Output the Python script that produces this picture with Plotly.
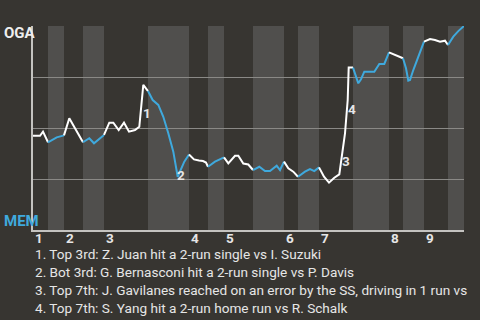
import plotly.graph_objects as go

# timeline position (game progress units) and OGA win probability (%)
t = [0, 7, 10, 15,
     20.3, 23.7, 31,
     36.3, 43, 50,
     56.3, 61, 71,
     76.3, 80.3, 85.7, 91, 96, 102, 106.3, 110.3, 115,
     119.7, 125.3, 130.3, 135.3, 140.3, 144.7, 151.3, 156,
     161, 166, 170, 173, 175,
     182, 191,
     195.3, 202, 205.3, 210.3, 215.3, 220,
     226.3, 232, 237, 243.7, 247, 251,
     255.3, 260.3, 265,
     272, 277, 281.3, 286,
     291, 296, 301.3, 306.3, 308.7, 312, 314.7, 315.7, 320,
     322.7, 325.3, 328, 331.3, 341.3, 346.3, 351.3, 356,
     360.3, 365.3, 370,
     373, 375.3, 377, 380.3, 385.3, 391,
     397, 402, 407, 412, 415,
     420.3, 425.3, 431]
wp = [46.2, 46.2, 48.2, 43.0,
      44.5, 45.4, 46.4,
      54.8, 49.0, 43.0,
      45.0, 42.5, 46.6,
      52.6, 52.6, 49.0, 52.6, 48.2, 49.0, 50.6, 71.1, 68.1,
      63.7, 61.3, 55.5, 47.4, 38.4, 26.1, 33.5, 37.0,
      34.6, 34.1, 33.8, 33.1, 31.0,
      33.5, 35.6,
      32.7, 36.4, 36.4, 32.6, 32.1, 29.4,
      31.0, 28.9, 28.9, 31.5, 29.4, 33.5,
      30.2, 28.6, 26.1,
      28.6, 29.9, 28.9, 30.7,
      26.1, 23.2, 25.6, 27.3, 36.8, 47.4, 63.7, 79.6, 79.6,
      75.1, 71.9, 73.9, 77.6, 77.6, 81.4, 81.4, 87.1,
      86.1, 85.0, 84.2,
      79.3, 73.2, 73.5, 78.4, 85.0, 92.3,
      93.6, 93.1, 92.3, 92.8, 90.7,
      94.8, 97.5, 100.0]

# half-inning boundaries on the timeline (top 1st ... bottom 9th)
half_bounds = [0, 15, 31, 50, 71, 115, 156, 175, 191, 220, 251, 265, 286,
               320, 356, 370, 391, 415, 431]
innings = ["1", "2", "3", "4", "5", "6", "7", "8", "9"]

# key events
event_nums = ["1", "2", "3", "4"]
event_t = [113.5, 148, 313, 319]
event_wp = [57.4, 27.0, 33.8, 59.3]
event_text = [
    "1. Top 3rd: Z. Juan hit a 2-run single vs I. Suzuki",
    "2. Bot 3rd: G. Bernasconi hit a 2-run single vs P. Davis",
    "3. Top 7th: J. Gavilanes reached on an error by the SS, driving in 1 run vs",
    "4. Top 7th: S. Yang hit a 2-run home run vs R. Schalk",
]

away, home = "OGA", "MEM"
BG = "#373531"
BAND = "#504f4d"
WHITE = "#ffffff"
BLUE = "#3fa9dd"
FONT = "Roboto"

fig = go.Figure()

for i in range(len(half_bounds) - 1):
    a, b = half_bounds[i], half_bounds[i + 1]
    xs = [x for x in t if a <= x <= b]
    ys = [y for x, y in zip(t, wp) if a <= x <= b]
    fig.add_trace(go.Scatter(
        x=xs, y=ys, mode="lines",
        line=dict(color=WHITE if i % 2 == 0 else BLUE, width=2),
        hoverinfo="skip", showlegend=False))

shapes = []
for i in range(1, len(half_bounds) - 1, 2):
    shapes.append(dict(type="rect", xref="x", yref="paper",
                       x0=half_bounds[i], x1=half_bounds[i + 1], y0=0, y1=1,
                       fillcolor=BAND, line=dict(width=0), layer="below"))

annotations = []
for k, lab in enumerate(innings):
    annotations.append(dict(x=half_bounds[2 * k], y=-0.04, xref="x", yref="paper",
                            text="<b>%s</b>" % lab, showarrow=False,
                            xanchor="left", yanchor="middle",
                            font=dict(family=FONT, size=13.5, color="#e6e6e6")))
for n, ex, ey in zip(event_nums, event_t, event_wp):
    annotations.append(dict(x=ex, y=ey, xref="x", yref="y",
                            text="<b>%s</b>" % n, showarrow=False,
                            xanchor="center", yanchor="middle",
                            font=dict(family=FONT, size=13.5, color="#e6e6e6")))
annotations.append(dict(x=-0.072, y=96.6, xref="paper", yref="y", text="<b>%s</b>" % away,
                        showarrow=False, xanchor="left", yanchor="middle",
                        font=dict(family=FONT, size=15, color="#eeeeee")))
annotations.append(dict(x=-0.072, y=4.4, xref="paper", yref="y", text="<b>%s</b>" % home,
                        showarrow=False, xanchor="left", yanchor="middle",
                        font=dict(family=FONT, size=15, color=BLUE)))
for j, txt in enumerate(event_text):
    annotations.append(dict(x=0.0, y=-0.118 - 0.088 * j, xref="paper", yref="paper",
                            text=txt, showarrow=False, xanchor="left", yanchor="middle",
                            font=dict(family=FONT, size=13.6, color="#e6e6e6")))

fig.update_layout(
    width=480, height=320,
    margin=dict(l=33, r=16, t=26, b=90),
    paper_bgcolor=BG, plot_bgcolor=BG,
    shapes=shapes, annotations=annotations,
    xaxis=dict(range=[0, 431], showgrid=False, zeroline=False, showticklabels=False,
               showline=True, linecolor="#c4c3c0", linewidth=2, ticks="", fixedrange=True),
    yaxis=dict(range=[0, 100], tickvals=[0, 25, 50, 75, 100], showgrid=True,
               gridcolor="#8a8986", gridwidth=1, zeroline=False, showticklabels=False,
               showline=True, linecolor="#c4c3c0", linewidth=2, ticks="", fixedrange=True),
    showlegend=False,
)

fig.write_html("out.html", config={"displayModeBar": False})
